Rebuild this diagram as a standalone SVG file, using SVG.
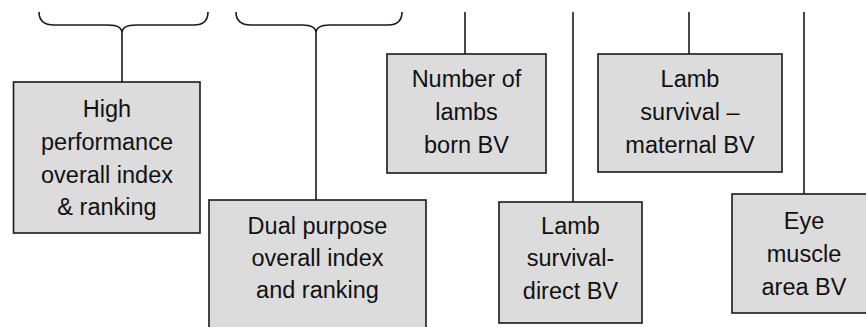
<svg xmlns="http://www.w3.org/2000/svg" width="866" height="327" viewBox="0 0 866 327">
<style>
.box{fill:#dcdcdc;stroke:#1a1a1a;stroke-width:1.6}
.ln{fill:none;stroke:#1a1a1a;stroke-width:1.6}
text{font-family:"Liberation Sans",Arial,sans-serif;font-size:23.5px;fill:#111;text-anchor:middle}
</style>
<rect width="866" height="327" fill="#fff"/>
<g id="connectors">
<path class="ln" d="M39,12 Q39,25 54,25 L108,25 Q122,25 122,33 Q122,25 136,25 L194,25 Q208,25 208,12"/>
<line class="ln" x1="122" y1="33" x2="122" y2="82"/>
<path class="ln" d="M236,12 Q236,25 251,25 L302,25 Q316,25 316,33 Q316,25 330,25 L388,25 Q402,25 402,12"/>
<line class="ln" x1="316" y1="33" x2="316" y2="200"/>
<line class="ln" x1="465" y1="12" x2="465" y2="54"/>
<line class="ln" x1="573" y1="12" x2="573" y2="202"/>
<line class="ln" x1="689" y1="12" x2="689" y2="54"/>
<line class="ln" x1="804" y1="12" x2="804" y2="194"/>
</g>
<g id="high-performance">
<rect class="box" x="13.5" y="82" width="186.5" height="151"/>
<text x="107" y="117">High</text>
<text x="107" y="150">performance</text>
<text x="107" y="183">overall index</text>
<text x="107" y="215">&amp; ranking</text>
</g>
<g id="dual-purpose">
<rect class="box" x="209" y="200" width="217" height="140"/>
<text x="317.5" y="234">Dual purpose</text>
<text x="317.5" y="266">overall index</text>
<text x="317.5" y="298">and ranking</text>
</g>
<g id="lambs-born">
<rect class="box" x="387" y="54" width="159" height="119"/>
<text x="466.5" y="87">Number of</text>
<text x="466.5" y="120">lambs</text>
<text x="466.5" y="153">born BV</text>
</g>
<g id="survival-direct">
<rect class="box" x="499" y="202" width="143" height="121"/>
<text x="570.5" y="234">Lamb</text>
<text x="570.5" y="266">survival-</text>
<text x="570.5" y="299">direct BV</text>
</g>
<g id="survival-maternal">
<rect class="box" x="598" y="54" width="184" height="118"/>
<text x="690" y="87">Lamb</text>
<text x="690" y="120">survival –</text>
<text x="690" y="153">maternal BV</text>
</g>
<g id="eye-muscle">
<rect class="box" x="732" y="194" width="144" height="119"/>
<text x="804" y="229">Eye</text>
<text x="804" y="262">muscle</text>
<text x="804" y="295">area BV</text>
</g>
</svg>
